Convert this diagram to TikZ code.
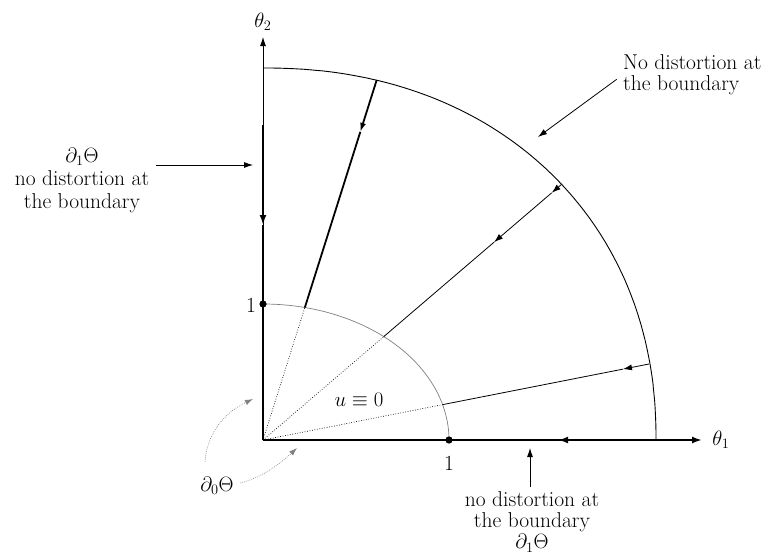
\documentclass[tikz,border=0pt]{standalone}
\usetikzlibrary{arrows.meta,calc}
\begin{document}
\begin{tikzpicture}[x=1pt,y=-1pt,
  thinline/.style={line width=0.8pt},
  thickline/.style={line width=2.2pt},
  arrowtip/.style={-{Latex[length=9pt,width=6pt]}},
  dotray/.style={line width=0.7pt, dash pattern=on 0.7pt off 1.8pt},
  dotcurve/.style={line width=0.7pt, gray, dash pattern=on 0.7pt off 1.3pt},
  lbl/.style={inner sep=0pt, font=\fontsize{21.5}{21}\selectfont},
]
\useasboundingbox (0,0) rectangle (777,557);

% key points
\coordinate (O) at (263,440);
\coordinate (Y1) at (263,304);
\coordinate (X1) at (449,440);
\coordinate (Ytip) at (263,37);
\coordinate (Xtip) at (702,440);
\coordinate (Yout) at (263,68);
\coordinate (Xout) at (656,440);
\coordinate (Vthick) at (263,125);
\coordinate (Vmid) at (263,225);
\coordinate (Hmid) at (558,440);

% rays
\coordinate (P1) at (376.7,80);
\coordinate (P2) at (562,184);
\coordinate (P3) at (649,364);
\coordinate (I1) at ($(O)!0.3681!(P1)$);
\coordinate (I2) at ($(O)!0.404!(P2)$);
\coordinate (I3) at ($(O)!0.4653!(P3)$);
\coordinate (T1) at ($(P1)!0.144!(O)$);
\coordinate (T2a) at ($(P2)!0.0344!(O)$);
\coordinate (T2b) at ($(P2)!0.2274!(O)$);
\coordinate (T3) at ($(P3)!0.0674!(O)$);

% inner quarter ellipse
\draw[gray, line width=0.7pt] plot[domain=0:90, samples=90] ({263+186*cos(\x)}, {440-136*sin(\x)});

% outer boundary (superellipse)
\draw[line width=0.9pt] (Xout) -- plot[domain=0.1:89.9, samples=150] ({263+393*cos(\x)^0.93}, {440-372*sin(\x)^0.93}) -- (Yout);

% axes
\draw[thinline, arrowtip] (O) -- (Ytip);
\draw[thickline, -{Latex[length=10pt,width=7pt]}] (Vthick) -- (Vmid);
\draw[thickline] (Vmid) -- (O);
\draw[thickline, -{Latex[length=10pt,width=7pt]}] (O) -- (Xtip);
\draw[thickline, -{Latex[length=10pt,width=7pt]}] (Xout) -- (Hmid);

% dotted ray parts
\draw[dotray] (O) -- (I1);
\draw[dotray] (O) -- (I2);
\draw[dotray] (O) -- (I3);

% solid ray parts
\draw[line width=1.8pt, arrowtip] (P1) -- (T1);
\draw[line width=1.8pt] (T1) -- (I1);
\draw[thinline, arrowtip] (P2) -- (T2a);
\draw[thinline, arrowtip] (T2a) -- (T2b);
\draw[thinline] (T2b) -- (I2);
\draw[thinline, arrowtip] (P3) -- (T3);
\draw[thinline] (T3) -- (I3);

% unit points
\fill (Y1) circle[radius=3.6pt];
\fill (X1) circle[radius=3.6pt];

% labels
\node[lbl] (t2) at (263,22) {$\theta_2$};
\node[lbl] (t1) at (721,440) {$\theta_1$};
\node[lbl] (one2) at (251,305) {1};
\node[lbl] (one1) at (449,463) {1};
\node[lbl] (u0) at (359,400) {$u\equiv0$};
\node[lbl] (d0) at (217,486) {$\partial_0\Theta$};
\node[lbl, align=center, font=\fontsize{21.5}{23}\selectfont] (leftlab) at (82,180) {$\partial_1\Theta$\\no distortion at\\the boundary};
\node[lbl, align=left, anchor=west] (toplab) at (623,75) {No distortion at\\the boundary};
\node[lbl, align=center] (botlab) at (532,522) {no distortion at\\the boundary\\$\partial_1\Theta$};

% annotation arrows
\coordinate (La) at (156,165);
\coordinate (Lb) at (253,165);
\coordinate (Ta) at (616.7,79.3);
\coordinate (Tb) at (538,137);
\coordinate (Ba) at (530,487);
\coordinate (Bb) at (530,448);
\draw[thinline, arrowtip] (La) -- (Lb);
\draw[thinline, arrowtip] (Ta) -- (Tb);
\draw[thinline, arrowtip] (Ba) -- (Bb);

% curved dotted arrows from d0
\coordinate (C1a) at (205,462);
\coordinate (C1b) at (253,399);
\coordinate (C2a) at (240,483);
\coordinate (C2b) at (297,448);
\draw[dotcurve, -{Latex[length=8pt,width=5.5pt]}] (C1a) .. controls (207,430) and (228,411) .. (C1b);
\draw[dotcurve, -{Latex[length=8pt,width=5.5pt]}] (C2a) .. controls (262,478) and (282,462) .. (C2b);
\end{tikzpicture}
\end{document}
